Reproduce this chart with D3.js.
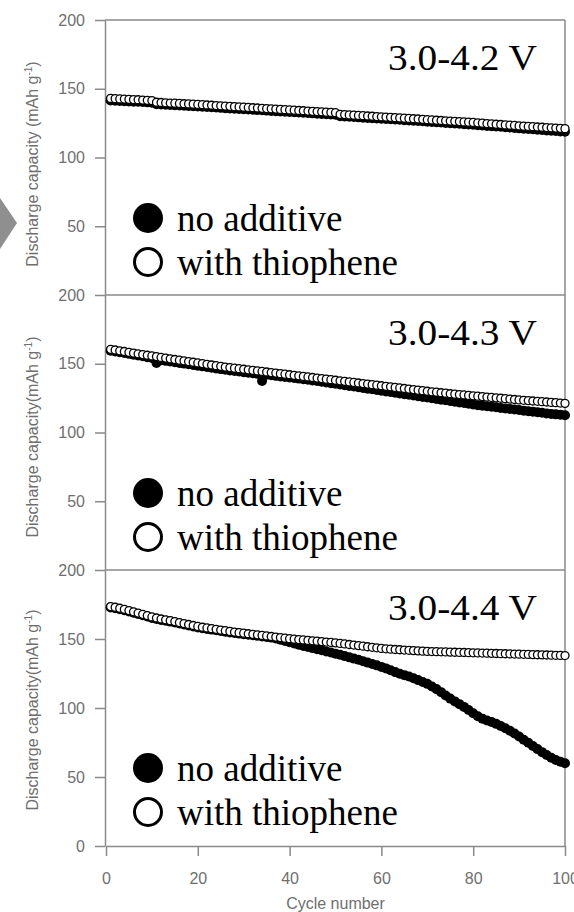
<!DOCTYPE html>
<html>
<head>
<meta charset="utf-8">
<script src="https://cdn.jsdelivr.net/npm/d3@7"></script>
<style>
  body { margin: 0; background: #fff; }
</style>
</head>
<body>
<div id="chartContainer"></div>
<script>
// cycle numbers on the x axis
let cycles = d3.range(1, 101)
let xTicks = [0, 20, 40, 60, 80, 100]
let yTicks = [50, 100, 150, 200]
let yTicksLast = [0, 50, 100, 150, 200]

let rangeLabels = ['3.0-4.2 V', '3.0-4.3 V', '3.0-4.4 V']
let yLabelTexts = ['Discharge capacity (mAh g', 'Discharge capacity(mAh g', 'Discharge capacity(mAh g']
let seriesNames = ['no additive', 'with thiophene']

// 3.0-4.2 V
let noAdd42 = [141.5, 141.3, 141.1, 141, 140.8, 140.6, 140.5, 140.3, 140.1, 139.9,
  138.8, 138.6, 138.4, 138.2, 138, 137.8, 137.6, 137.5, 137.3, 137.1,
  136.9, 136.7, 136.5, 136.3, 136.1, 135.9, 135.7, 135.5, 135.3, 135.1,
  134.9, 134.7, 134.5, 134.3, 134.1, 133.9, 133.7, 133.5, 133.3, 133.1,
  132.9, 132.7, 132.5, 132.3, 132.1, 131.9, 131.7, 131.5, 131.3, 131.1,
  130, 129.8, 129.6, 129.4, 129.2, 129, 128.8, 128.6, 128.4, 128.2,
  128, 127.8, 127.6, 127.4, 127.1, 126.9, 126.7, 126.5, 126.3, 126,
  125.8, 125.6, 125.4, 125.1, 124.9, 124.7, 124.5, 124.2, 124, 123.8,
  123.5, 123.3, 123, 122.8, 122.5, 122.3, 122, 121.8, 121.5, 121.2,
  121, 120.7, 120.5, 120.2, 120, 119.7, 119.5, 119.3, 119, 118.8]
let thio42 = [143, 142.8, 142.6, 142.5, 142.3, 142.1, 142, 141.8, 141.6, 141.4,
  140.2, 140, 139.8, 139.6, 139.5, 139.3, 139.1, 139, 138.8, 138.6,
  138.4, 138.2, 138, 137.8, 137.6, 137.4, 137.2, 137, 136.8, 136.6,
  136.4, 136.2, 136, 135.8, 135.6, 135.4, 135.2, 135, 134.8, 134.6,
  134.4, 134.2, 134, 133.8, 133.6, 133.4, 133.2, 133, 132.8, 132.6,
  131.4, 131.2, 131, 130.8, 130.6, 130.4, 130.2, 130, 129.8, 129.6,
  129.4, 129.2, 129, 128.8, 128.6, 128.4, 128.2, 128, 127.8, 127.5,
  127.3, 127.1, 126.9, 126.7, 126.5, 126.3, 126.1, 125.9, 125.7, 125.5,
  125.2, 125, 124.7, 124.5, 124.2, 124, 123.7, 123.5, 123.3, 123,
  122.8, 122.6, 122.4, 122.2, 122, 121.8, 121.6, 121.4, 121.2, 121]

// 3.0-4.3 V
let noAdd43 = [159.5, 159, 158.4, 157.8, 157.2, 156.6, 156, 155.4, 154.8, 154.2,
  150.5, 152.6, 152.1, 151.6, 151.1, 150.6, 150.1, 149.6, 149.1, 148.6,
  148.1, 147.6, 147.1, 146.6, 146.1, 145.6, 145.1, 144.7, 144.3, 143.9,
  143.5, 143.1, 142.7, 137.5, 142, 141.6, 141.2, 140.8, 140.4, 140,
  139.6, 139.2, 138.8, 138.4, 137.9, 137.4, 136.9, 136.4, 135.9, 135.4,
  134.9, 134.4, 133.9, 133.4, 132.9, 132.4, 131.9, 131.4, 130.9, 130.4,
  129.9, 129.4, 128.9, 128.4, 127.9, 127.4, 126.9, 126.4, 125.9, 125.4,
  124.9, 124.4, 123.9, 123.4, 122.9, 122.4, 121.9, 121.4, 120.9, 120.4,
  119.9, 119.5, 119.1, 118.7, 118.3, 117.9, 117.5, 117.1, 116.7, 116.3,
  115.9, 115.5, 115.1, 114.7, 114.3, 113.9, 113.5, 113.2, 112.9, 112.6]
let thio43 = [160.5, 160, 159.4, 158.9, 158.3, 157.8, 157.2, 156.7, 156.2, 155.7,
  155.2, 154.6, 154.1, 153.6, 153.1, 152.6, 152.1, 151.6, 151.1, 150.6,
  150.1, 149.6, 149.1, 148.6, 148.1, 147.6, 147.2, 146.8, 146.4, 146,
  145.6, 145.2, 144.8, 144.4, 144, 143.6, 143.2, 142.8, 142.4, 142,
  141.6, 141.2, 140.8, 140.4, 140, 139.6, 139.2, 138.8, 138.4, 138,
  137.6, 137.2, 136.8, 136.4, 136, 135.6, 135.2, 134.8, 134.4, 134,
  133.6, 133.2, 132.8, 132.4, 132, 131.6, 131.2, 130.8, 130.4, 130,
  129.6, 129.3, 128.9, 128.6, 128.2, 127.9, 127.6, 127.3, 127, 126.7,
  126.4, 126.1, 125.8, 125.5, 125.2, 124.9, 124.6, 124.3, 124, 123.7,
  123.4, 123.2, 122.9, 122.7, 122.4, 122.2, 121.9, 121.7, 121.4, 121.2]

// 3.0-4.4 V
let noAdd44 = [172.8, 172.3, 171.6, 170.8, 169.9, 169, 168.1, 167.2, 166.3, 165.3,
  164.5, 163.8, 163.2, 162.6, 161.9, 161.2, 160.5, 159.8, 159.1, 158.4,
  157.8, 157.3, 156.8, 156.3, 155.8, 155.3, 154.8, 154.3, 153.9, 153.5,
  153.1, 152.7, 152.3, 151.9, 151.5, 151, 150.3, 149.5, 148.6, 147.7,
  146.8, 145.9, 145, 144.2, 143.4, 142.6, 141.8, 141, 140.2, 139.4,
  138.6, 137.6, 136.7, 135.8, 134.9, 133.9, 132.9, 131.9, 130.9, 129.8,
  128.7, 127.4, 126, 124.8, 123.8, 122.8, 121.5, 120.2, 118.9, 117.5,
  115.6, 113.7, 111.5, 109, 106.8, 104.8, 102.8, 100.8, 98.5, 96.2,
  94, 92.3, 91, 89.8, 88.5, 87, 85.3, 83.5, 81.5, 79.3,
  77, 74.8, 72.5, 70.2, 68, 66, 64, 62.3, 61, 60]
let thio44 = [173.5, 173, 172.3, 171.5, 170.6, 169.7, 168.8, 167.9, 167, 166,
  165.2, 164.5, 163.9, 163.3, 162.6, 161.9, 161.2, 160.5, 159.8, 159.1,
  158.5, 158, 157.5, 157, 156.5, 156, 155.5, 155, 154.6, 154.2,
  153.8, 153.4, 153, 152.6, 152.2, 151.8, 151.4, 151, 150.6, 150.2,
  149.9, 149.6, 149.3, 149, 148.7, 148.4, 148.1, 147.8, 147.5, 147.2,
  146.8, 146.4, 146, 145.6, 145.2, 144.8, 144.4, 144, 143.6, 143.2,
  142.9, 142.6, 142.4, 142.2, 142, 141.8, 141.6, 141.4, 141.2, 141,
  140.9, 140.8, 140.7, 140.6, 140.5, 140.4, 140.3, 140.2, 140.1, 140,
  139.9, 139.8, 139.7, 139.6, 139.5, 139.4, 139.3, 139.2, 139.1, 139,
  138.9, 138.8, 138.7, 138.6, 138.5, 138.4, 138.3, 138.2, 138.1, 138]

let noAddSeries = [noAdd42, noAdd43, noAdd44]
let thioSeries = [thio42, thio43, thio44]

// -- layout
let width = 574
let height = 912
let plotLeft = 105
let plotRight = 565
let panelTops = [20, 295, 570]
let panelBottoms = [295, 570, 846]
let yLabelCenters = [164, 437, 710]
let axisGray = '#8a8a8a'
let textGray = '#6f6f6f'
let serif = 'Liberation Serif, Times New Roman, serif'
let sans = 'Liberation Sans, Arial, sans-serif'

let svg = d3.select('#chartContainer')
  .append('svg')
  .attr('width', width)
  .attr('height', height)
  .style('background', '#fff')

// little gray arrow cut off at the left edge
svg.append('path')
  .attr('d', 'M0,198 L17,223 L0,249 Z')
  .attr('fill', '#8f8f8f')

let xScale = d3.scaleLinear()
  .domain([0, 100])
  .range([106, 565])

panelTops.forEach((top, i) => {
  let bottom = panelBottoms[i]
  let yScale = d3.scaleLinear()
    .domain([0, 200])
    .range([bottom, top])

  // frame: top line and right line
  svg.append('line')
    .attr('x1', plotLeft).attr('x2', plotRight)
    .attr('y1', top).attr('y2', top)
    .attr('stroke', axisGray).attr('stroke-width', 1.5)
  svg.append('line')
    .attr('x1', plotRight).attr('x2', plotRight)
    .attr('y1', top).attr('y2', bottom)
    .attr('stroke', axisGray).attr('stroke-width', 1.5)

  // -- Y axis
  let yAxis = d3.axisLeft(yScale)
    .tickValues(i == 2 ? yTicksLast : yTicks)
    .tickSize(10)
    .tickSizeOuter(0)
    .tickPadding(10)
  let gy = svg.append('g')
    .attr('transform', `translate(${plotLeft}, 0)`)
    .call(yAxis)
  gy.select('.domain').attr('stroke', axisGray).attr('stroke-width', 1.5)
  gy.selectAll('.tick line').attr('stroke', axisGray).attr('stroke-width', 1.5)
  gy.selectAll('.tick text')
    .attr('fill', textGray)
    .style('font-family', sans)
    .style('font-size', '16px')

  // y axis title
  let ylab = svg.append('text')
    .attr('transform', `translate(38, ${yLabelCenters[i]}) rotate(-90)`)
    .attr('text-anchor', 'middle')
    .attr('fill', textGray)
    .style('font-family', sans)
    .style('font-size', '16px')
  ylab.append('tspan').text(yLabelTexts[i])
  ylab.append('tspan').text('-1').attr('dy', -6).style('font-size', '10px')
  ylab.append('tspan').text(')').attr('dy', 6)

  // dots: no additive first, thiophene on top
  svg.append('g').selectAll('circle')
    .data(noAddSeries[i])
    .enter()
    .append('circle')
    .attr('cx', (d, j) => xScale(cycles[j]))
    .attr('cy', (d) => yScale(d))
    .attr('r', 5)
    .attr('fill', '#000')

  svg.append('g').selectAll('circle')
    .data(thioSeries[i])
    .enter()
    .append('circle')
    .attr('cx', (d, j) => xScale(cycles[j]))
    .attr('cy', (d) => yScale(d))
    .attr('r', 4)
    .attr('fill', '#fff')
    .attr('stroke', '#000')
    .attr('stroke-width', 1.3)

  // voltage window label (a bit wider than plain Times in the original)
  svg.append('text')
    .attr('x', 388)
    .attr('y', top + 50)
    .attr('textLength', 149)
    .attr('lengthAdjust', 'spacingAndGlyphs')
    .style('font-family', serif)
    .style('font-size', '36px')
    .text(rangeLabels[i])

  // legend
  svg.append('circle')
    .attr('cx', 148).attr('cy', top + 198).attr('r', 15)
    .attr('fill', '#000')
  svg.append('circle')
    .attr('cx', 148).attr('cy', top + 242).attr('r', 13.5)
    .attr('fill', '#fff').attr('stroke', '#000').attr('stroke-width', 3)
  svg.append('text')
    .attr('x', 177).attr('y', top + 211)
    .style('font-family', serif)
    .style('font-size', '37px')
    .text(seriesNames[0])
  svg.append('text')
    .attr('x', 177).attr('y', top + 255)
    .style('font-family', serif)
    .style('font-size', '37px')
    .text(seriesNames[1])
})

// -- X axis
let xAxis = d3.axisBottom(xScale)
  .tickValues(xTicks)
  .tickSize(10)
  .tickSizeOuter(0)
  .tickPadding(17)
let gx = svg.append('g')
  .attr('transform', `translate(0, ${panelBottoms[2]})`)
  .call(xAxis)
gx.select('.domain').attr('stroke', axisGray).attr('stroke-width', 1.5)
gx.selectAll('.tick line').attr('stroke', axisGray).attr('stroke-width', 1.5)
gx.selectAll('.tick text')
  .attr('fill', textGray)
  .style('font-family', sans)
  .style('font-size', '16px')

svg.append('text')
  .attr('x', xScale(50))
  .attr('y', 909)
  .attr('text-anchor', 'middle')
  .attr('fill', textGray)
  .style('font-family', sans)
  .style('font-size', '16px')
  .text('Cycle number')
</script>
</body>
</html>
